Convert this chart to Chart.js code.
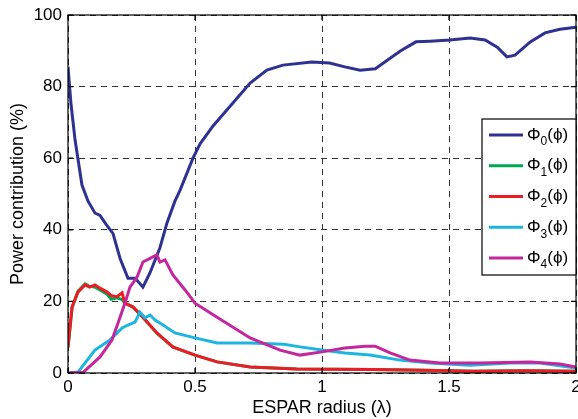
<!DOCTYPE html>
<html>
<head>
<meta charset="utf-8">
<script src="https://cdn.jsdelivr.net/npm/chart.js@4.4.1/dist/chart.umd.min.js"></script>
<style>
  html, body { margin: 0; padding: 0; background: #fff; }
  #wrap { width: 578px; height: 419px; }
</style>
</head>
<body>
<div id="wrap"><canvas id="chart" width="578" height="419"></canvas></div>
<script>
// ESPAR radius (lambda) samples and power contribution (%) for each mode
const phi0X = [0, 0.012, 0.028, 0.055, 0.079, 0.106, 0.126, 0.15, 0.177, 0.205, 0.236, 0.264, 0.295, 0.323, 0.362, 0.39, 0.421, 0.441, 0.492, 0.52, 0.571, 0.65, 0.717, 0.783, 0.846, 0.96, 1.03, 1.09, 1.15, 1.21, 1.25, 1.31, 1.37, 1.425, 1.504, 1.583, 1.642, 1.69, 1.728, 1.76, 1.82, 1.878, 1.937, 2];
const phi0Y = [85.5, 75, 65, 52.5, 48, 44.7, 44, 41.5, 39, 32, 26.5, 26.5, 24, 28, 35, 42, 48, 51, 60, 64, 69, 75.5, 81, 84.6, 86, 86.9, 86.6, 85.5, 84.6, 85, 87, 90, 92.5, 92.7, 93, 93.6, 93, 91, 88.3, 88.8, 92.5, 95, 96, 96.6];

const phi1X = [0, 0.016, 0.039, 0.067, 0.085, 0.106, 0.126, 0.154, 0.17, 0.193, 0.213, 0.224, 0.256, 0.295, 0.35, 0.413, 0.5, 0.587, 0.717, 0.9, 1.2, 1.4, 1.6, 1.8, 2];
const phi1Y = [7, 18.2, 22.8, 24.9, 24.2, 24, 23.2, 22, 20.6, 21, 20.5, 19.6, 18.3, 15.5, 11.1, 7.2, 5, 3.1, 1.7, 1.1, 1.0, 0.8, 0.5, 0.6, 0.5];

const phi2X = [0, 0.016, 0.039, 0.067, 0.085, 0.106, 0.126, 0.154, 0.17, 0.193, 0.213, 0.224, 0.256, 0.295, 0.35, 0.413, 0.5, 0.587, 0.717, 0.9, 1.2, 1.4, 1.6, 1.8, 2];
const phi2Y = [7.3, 18.5, 22.6, 24.6, 24, 24.6, 23.7, 22.6, 21.6, 21.3, 22.4, 19.5, 18.5, 15.6, 11.2, 7.3, 5, 3.1, 1.7, 1.1, 1.0, 0.8, 0.5, 0.6, 0.5];

const phi3X = [0, 0.04, 0.106, 0.165, 0.213, 0.236, 0.264, 0.283, 0.303, 0.323, 0.343, 0.374, 0.421, 0.5, 0.587, 0.717, 0.85, 0.913, 1.0, 1.09, 1.189, 1.307, 1.425, 1.583, 1.74, 1.858, 2];
const phi3Y = [0, 0.3, 6.4, 9.2, 12.6, 13.4, 14.2, 17, 15.4, 16.2, 14.8, 13.4, 11.2, 9.8, 8.4, 8.4, 8, 7.3, 6.4, 5.6, 5, 3.6, 2.8, 2.2, 2.8, 2.8, 1.4];

const phi4X = [0, 0.06, 0.126, 0.173, 0.197, 0.224, 0.244, 0.272, 0.295, 0.323, 0.35, 0.362, 0.382, 0.413, 0.461, 0.5, 0.587, 0.717, 0.835, 0.913, 1.0, 1.09, 1.169, 1.209, 1.268, 1.346, 1.465, 1.622, 1.819, 1.937, 2];
const phi4Y = [0, 0.2, 4.5, 9.2, 14, 19.5, 24, 26.8, 31, 32, 33, 31, 31.6, 27.4, 23.2, 19.5, 15.6, 9.8, 6.4, 5, 5.9, 7, 7.5, 7.5, 5.6, 3.6, 2.8, 2.8, 3.1, 2.5, 1.7];

const subscripts = ['0', '1', '2', '3', '4'];
const colors = ['#2e3192', '#00a651', '#ed1c24', '#1cb5e0', '#c4269c'];
const xTicks = [0, 0.5, 1, 1.5, 2];
const yTicks = [0, 20, 40, 60, 80, 100];

const FONT = '"Liberation Sans", Arial, sans-serif';

function pts(xs, ys) {
  return xs.map((x, i) => ({ x: x, y: ys[i] }));
}

const series = [[phi0X, phi0Y], [phi1X, phi1Y], [phi2X, phi2Y], [phi3X, phi3Y], [phi4X, phi4Y]];

// later series drawn on top (lower order = on top in chart.js)
const datasets = series.map((s, i) => ({
  label: 'Φ' + subscripts[i] + '(ϕ)',
  data: pts(s[0], s[1]),
  borderColor: colors[i],
  borderWidth: 3,
  pointRadius: 0,
  tension: 0,
  fill: false,
  order: 5 - i
}));

// frame, inner tick marks and legend box like MATLAB
const framePlugin = {
  id: 'frame',
  afterDraw(chart) {
    const ctx = chart.ctx;
    const a = chart.chartArea;
    const xs = chart.scales.x, ys = chart.scales.y;
    ctx.save();
    ctx.strokeStyle = '#000';
    ctx.lineWidth = 1.2;
    ctx.strokeRect(a.left, a.top, a.right - a.left, a.bottom - a.top);
    ctx.beginPath();
    xTicks.forEach(t => {
      const px = xs.getPixelForValue(t);
      ctx.moveTo(px, a.bottom); ctx.lineTo(px, a.bottom - 5);
      ctx.moveTo(px, a.top); ctx.lineTo(px, a.top + 5);
    });
    yTicks.forEach(t => {
      const py = ys.getPixelForValue(t);
      ctx.moveTo(a.left, py); ctx.lineTo(a.left + 5, py);
      ctx.moveTo(a.right, py); ctx.lineTo(a.right - 5, py);
    });
    ctx.stroke();

    // legend (entries in dataset index order)
    const lx = 482, ly = 119, lw = a.right - 482, lh = 156;
    ctx.fillStyle = '#fff';
    ctx.fillRect(lx, ly, lw, lh);
    ctx.strokeRect(lx, ly, lw, lh);
    chart.data.datasets.forEach((d, i) => {
      const y = 135 + i * 30.75;
      ctx.strokeStyle = d.borderColor;
      ctx.lineWidth = 3;
      ctx.beginPath();
      ctx.moveTo(489, y); ctx.lineTo(523, y);
      ctx.stroke();
      ctx.fillStyle = '#000';
      ctx.textBaseline = 'middle';
      ctx.font = '17px ' + FONT;
      ctx.fillText('Φ', 527, y);
      let x = 527 + ctx.measureText('Φ').width;
      ctx.font = '12px ' + FONT;
      ctx.fillText(subscripts[i], x, y + 7);
      x += ctx.measureText(subscripts[i]).width;
      ctx.font = '17px ' + FONT;
      ctx.fillText('(ϕ)', x, y);
    });
    ctx.restore();
  }
};

new Chart(document.getElementById('chart'), {
  type: 'line',
  data: { datasets: datasets },
  options: {
    responsive: false,
    animation: false,
    layout: { padding: { top: 15, right: 2, left: 0, bottom: 0 } },
    plugins: { legend: { display: false }, tooltip: { enabled: false } },
    scales: {
      x: {
        type: 'linear', min: 0, max: 2,
        afterBuildTicks(s) { s.ticks = xTicks.map(v => ({ value: v })); },
        afterFit(s) { s.height = 46; s.paddingRight = 0; s.paddingLeft = 0; },
        ticks: { color: '#000', font: { size: 17, family: FONT }, padding: 4, maxRotation: 0, callback: v => String(v) },
        grid: { color: '#333', lineWidth: 1, drawTicks: false },
        border: { display: false, dash: [6, 5] },
        title: { display: true, text: 'ESPAR radius (λ)', color: '#000', font: { size: 18, family: FONT }, padding: { top: 0, bottom: 0 } }
      },
      y: {
        min: 0, max: 100,
        afterBuildTicks(s) { s.ticks = yTicks.map(v => ({ value: v })); },
        afterFit(s) { s.width = 68; s.paddingTop = 0; s.paddingBottom = 0; },
        ticks: { color: '#000', font: { size: 17, family: FONT }, padding: 6, callback: v => String(v) },
        grid: { color: '#333', lineWidth: 1, drawTicks: false },
        border: { display: false, dash: [6, 5] },
        title: { display: true, text: 'Power contribution (%)', color: '#000', font: { size: 18, family: FONT }, padding: { top: 7, bottom: 0 } }
      }
    }
  },
  plugins: [framePlugin]
});
</script>
</body>
</html>
